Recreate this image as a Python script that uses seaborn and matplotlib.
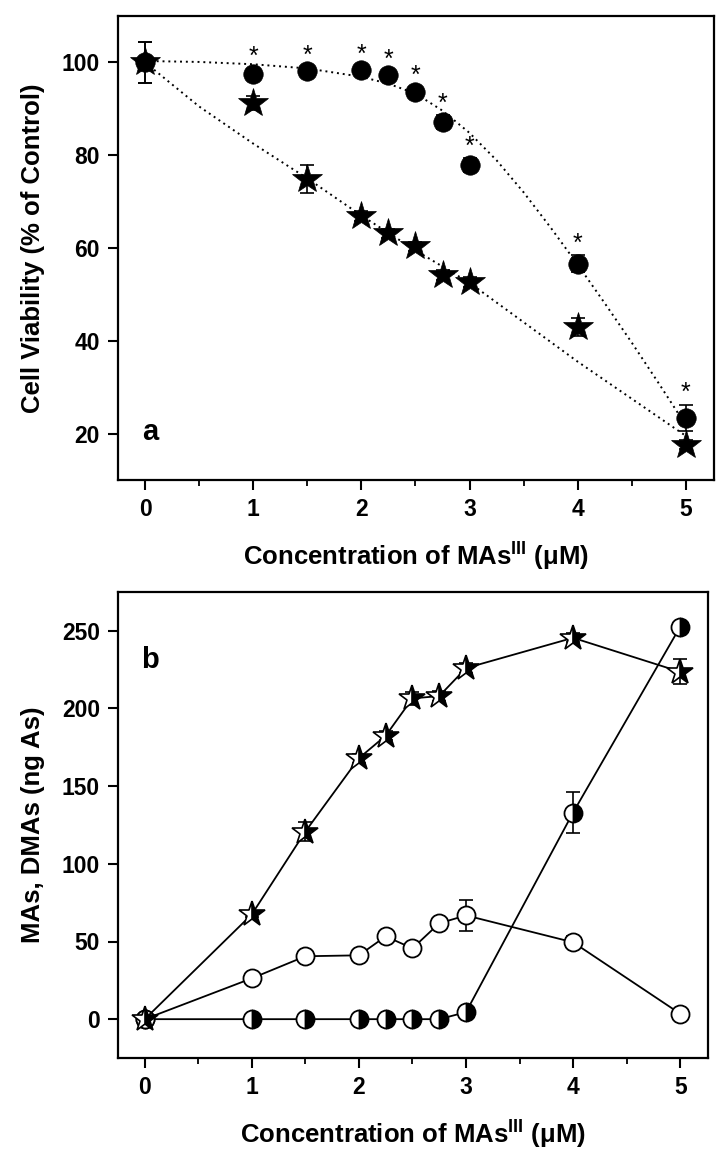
import numpy as np
import pandas as pd
import matplotlib
matplotlib.use("Agg")
import matplotlib.pyplot as plt
from matplotlib.ticker import MultipleLocator
import seaborn as sns

# concentrations of MAs(III), uM
conc = [0, 1, 1.5, 2, 2.25, 2.5, 2.75, 3, 4, 5]

# panel a: cell viability (% of control)
via_circle = [100, 97.6, 98.1, 98.4, 97.2, 93.6, 87.1, 77.8, 56.6, 23.4]
via_circle_err = [4.5, 1.0, 0.8, 0.8, 0.8, 1.0, 1.5, 1.5, 1.8, 2.8]
via_star = [100, 91.2, 74.8, 66.9, 63.2, 60.4, 54.2, 52.7, 43.0, 17.6]
via_star_err = [4.5, 1.5, 3.0, 1.0, 1.0, 1.0, 1.0, 1.0, 2.0, 1.0]

# dotted fit curves
fit_circle_x = [0, 0.5, 1, 1.5, 2, 2.25, 2.5, 2.75, 3, 3.25, 3.5, 3.75, 4, 4.25, 4.5, 4.75, 5]
fit_circle_y = [100.3, 100.1, 99.6, 98.7, 96.9, 95.4, 93.3, 89.6, 84.8, 78.9, 72.0, 64.4, 56.4, 48.1, 39.6, 30.8, 21.8]
fit_star_x = [0, 0.5, 1, 1.5, 2, 2.5, 3, 3.5, 4, 4.5, 5]
fit_star_y = [100, 90.5, 82.5, 75.0, 67.0, 59.5, 52.5, 44.0, 35.5, 27.5, 19.5]

# panel b: MAs, DMAs (ng As)
b_star = [0, 67.5, 120.8, 168.0, 182.5, 206.5, 208.0, 226.0, 245.5, 223.6]
b_star_err = [0, 2, 6, 3, 3, 4, 3, 3, 3, 8]
b_open = [0, 26.3, 40.5, 41.1, 53.3, 45.6, 61.7, 66.8, 49.5, 3.5]
b_open_err = [0, 3, 3, 3, 3, 3, 3, 10, 4, 2]
b_half = [0, 0, 0, 0, 0, 0, 0, 4.5, 133, 252.6]
b_half_err = [0, 0, 0, 0, 0, 0, 0, 1, 13, 2]

sns.set_style("ticks")
plt.rcParams["font.family"] = ["Liberation Sans", "DejaVu Sans"]
plt.rcParams["font.weight"] = "bold"
plt.rcParams["axes.labelweight"] = "bold"
plt.rcParams["text.color"] = "black"
plt.rcParams["axes.labelcolor"] = "black"
plt.rcParams["xtick.color"] = "black"
plt.rcParams["ytick.color"] = "black"
plt.rcParams["mathtext.fontset"] = "custom"
plt.rcParams["mathtext.bf"] = "Liberation Sans:bold"
plt.rcParams["mathtext.rm"] = "Liberation Sans"

fig = plt.figure(figsize=(7.26, 11.57), dpi=100)
ax1 = fig.add_axes([118 / 726, 1 - 480 / 1157, 596 / 726, 464 / 1157])
ax2 = fig.add_axes([118 / 726, 1 - 1058 / 1157, 590 / 726, 466 / 1157])

xlabel = r"Concentration of MAs$^{\mathbf{III}}$ ($\mathrm{\mu}$M)"


def style_axis(ax):
    for sp in ax.spines.values():
        sp.set_linewidth(1.6)
        sp.set_color("black")
    ax.xaxis.set_major_locator(MultipleLocator(1))
    ax.xaxis.set_minor_locator(MultipleLocator(0.5))
    ax.tick_params(axis="both", which="major", direction="out", length=7,
                   width=1.5, labelsize=16.5, colors="black", pad=6)
    ax.tick_params(axis="x", which="minor", direction="out", length=4.5, width=1.3)
    for lab in ax.get_xticklabels() + ax.get_yticklabels():
        lab.set_fontweight("bold")
    ax.set_xlim(-0.25, 5.26)
    ax.set_xlabel(xlabel, fontsize=18.5, fontweight="bold", labelpad=13)


# ---- panel a ----
fit_c = pd.DataFrame({"x": fit_circle_x, "y": fit_circle_y})
fit_s = pd.DataFrame({"x": fit_star_x, "y": fit_star_y})
sns.lineplot(data=fit_c, x="x", y="y", ax=ax1, color="black", linestyle=(0, (1, 2)),
             linewidth=1.4, estimator=None, sort=False)
sns.lineplot(data=fit_s, x="x", y="y", ax=ax1, color="black", linestyle=(0, (1, 2)),
             linewidth=1.4, estimator=None, sort=False)

ax1.errorbar(conc, via_circle, yerr=via_circle_err, fmt="none", ecolor="black",
             elinewidth=1.2, capsize=5, capthick=1.2, zorder=3)
ax1.errorbar(conc, via_star, yerr=via_star_err, fmt="none", ecolor="black",
             elinewidth=1.2, capsize=5, capthick=1.2, zorder=3)

dfa = pd.DataFrame({"conc": conc, "circle": via_circle, "star": via_star})
sns.lineplot(data=dfa, x="conc", y="star", ax=ax1, linestyle="none", marker="*",
             markersize=22, color="black", markeredgecolor="black", markeredgewidth=0.5,
             estimator=None, sort=False, zorder=4)
sns.lineplot(data=dfa, x="conc", y="circle", ax=ax1, linestyle="none", marker="o",
             markersize=14, color="black", markeredgecolor="black", markeredgewidth=0.5,
             estimator=None, sort=False, zorder=5)

for xv, yv, ev in zip(conc[1:], via_circle[1:], via_circle_err[1:]):
    ax1.text(xv, yv + ev + 2.5, "*", ha="center", va="center", fontsize=18,
             fontweight="normal", color="black")

ax1.set_ylim(10, 110)
ax1.set_yticks([20, 40, 60, 80, 100])
ax1.set_ylabel("Cell Viability (% of Control)", fontsize=18.5, fontweight="bold", labelpad=12)
ax1.text(0.04, 0.103, "a", transform=ax1.transAxes, fontsize=21, fontweight="bold",
         va="center", ha="left")
style_axis(ax1)

# ---- panel b ----
dfb = pd.DataFrame({"conc": conc, "star": b_star, "open": b_open, "half": b_half})

for col, err in (("star", b_star_err), ("open", b_open_err), ("half", b_half_err)):
    ax2.errorbar(conc, dfb[col], yerr=err, fmt="none", ecolor="black",
                 elinewidth=1.2, capsize=5, capthick=1.2, zorder=3)

sns.lineplot(data=dfb, x="conc", y="half", ax=ax2, color="black", linewidth=1.3,
             marker="o", markersize=13, markerfacecolor="black", fillstyle="right",
             markerfacecoloralt="white", markeredgecolor="black", markeredgewidth=1.3,
             estimator=None, sort=False, zorder=4)
sns.lineplot(data=dfb, x="conc", y="open", ax=ax2, color="black", linewidth=1.3,
             marker="o", markersize=13, markerfacecolor="white",
             markeredgecolor="black", markeredgewidth=1.3,
             estimator=None, sort=False, zorder=5)
sns.lineplot(data=dfb, x="conc", y="star", ax=ax2, color="black", linewidth=1.3,
             marker="*", markersize=19, markerfacecolor="black", fillstyle="right",
             markerfacecoloralt="white", markeredgecolor="black", markeredgewidth=1.2,
             estimator=None, sort=False, zorder=6)

ax2.set_ylim(-25, 275)
ax2.set_yticks([0, 50, 100, 150, 200, 250])
ax2.set_ylabel("MAs, DMAs (ng As)", fontsize=18.5, fontweight="bold", labelpad=12)
ax2.text(0.04, 0.854, "b", transform=ax2.transAxes, fontsize=21, fontweight="bold",
         va="center", ha="left")
style_axis(ax2)

fig.savefig("out.png", dpi=100)
